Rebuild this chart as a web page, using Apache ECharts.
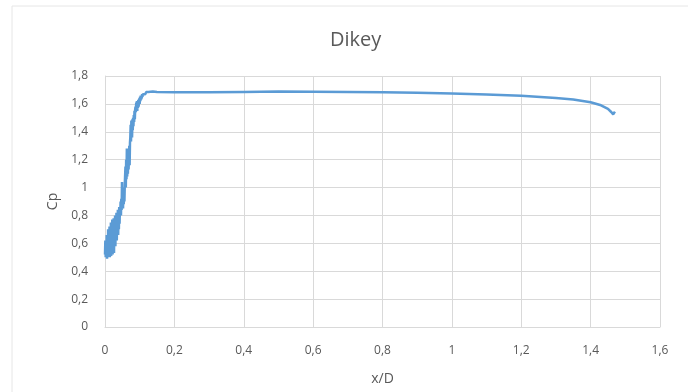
<!DOCTYPE html>
<html>
<head>
<meta charset="utf-8">
<script src="https://cdn.jsdelivr.net/npm/echarts@6/dist/echarts.min.js"></script>
<style>
html,body{margin:0;padding:0;background:#fff;}
#chart{width:688px;height:392px;}
</style>
</head>
<body>
<div id="chart"></div>
<script>
const chartTitle = "Dikey";
const xAxisName = "x/D";
const yAxisName = "Cp";
const xTickValues = [0, 0.2, 0.4, 0.6, 0.8, 1, 1.2, 1.4, 1.6];
const yTickValues = [0, 0.2, 0.4, 0.6, 0.8, 1, 1.2, 1.4, 1.6, 1.8];

// Noisy leading part (x/D from 0 to 0.138)
const xNoisy = [
  0.000,0.001,0.002,0.003,0.004,0.005,0.006,0.007,0.008,0.009,
  0.010,0.011,0.012,0.013,0.014,0.015,0.016,0.017,0.018,0.019,
  0.020,0.021,0.022,0.023,0.024,0.025,0.026,0.027,0.028,0.029,
  0.030,0.031,0.032,0.033,0.034,0.035,0.036,0.037,0.038,0.039,
  0.040,0.041,0.042,0.043,0.044,0.045,0.046,0.047,0.048,0.049,
  0.050,0.051,0.052,0.053,0.054,0.055,0.056,0.057,0.058,0.059,
  0.060,0.061,0.062,0.063,0.064,0.065,0.066,0.067,0.068,0.069,
  0.070,0.071,0.072,0.073,0.074,0.075,0.076,0.077,0.078,0.079,
  0.080,0.081,0.082,0.083,0.084,0.085,0.086,0.087,0.088,0.089,
  0.090,0.091,0.092,0.093,0.094,0.095,0.096,0.097,0.098,0.099,
  0.100,0.101,0.102,0.103,0.104,0.105,0.106,0.107,0.108,0.109,
  0.110,0.113,0.116,0.119,0.122,0.125,0.128,0.131,0.134,0.138
];
const yNoisy = [
  0.52,0.62,0.50,0.60,0.51,0.66,0.49,0.64,0.52,0.70,
  0.50,0.68,0.53,0.72,0.50,0.70,0.54,0.75,0.51,0.73,
  0.55,0.77,0.52,0.74,0.57,0.78,0.53,0.76,0.60,0.80,
  0.58,0.78,0.63,0.82,0.62,0.80,0.67,0.84,0.66,0.82,
  0.70,0.86,0.74,0.85,0.82,0.90,0.80,0.92,0.84,1.04,
  0.86,0.95,0.85,1.00,0.88,0.96,0.90,1.02,1.03,1.15,
  1.00,1.20,1.06,1.28,1.08,1.22,1.10,1.25,1.13,1.21,
  1.30,1.16,1.32,1.36,1.45,1.33,1.48,1.38,1.36,1.49,
  1.41,1.50,1.44,1.52,1.47,1.55,1.49,1.56,1.58,1.54,
  1.61,1.56,1.62,1.55,1.60,1.57,1.63,1.58,1.62,1.64,
  1.60,1.65,1.62,1.66,1.63,1.66,1.64,1.67,1.65,1.67,
  1.66,1.68,1.67,1.685,1.675,1.686,1.68,1.687,1.685,1.688
];
// Smooth remainder
const xSmooth = [0.15,0.2,0.3,0.4,0.5,0.6,0.7,0.8,0.9,1.0,1.1,1.2,1.3,1.35,1.4,1.43,1.45,1.46,1.465,1.47];
const ySmooth = [1.686,1.684,1.684,1.686,1.688,1.687,1.686,1.684,1.680,1.675,1.668,1.658,1.643,1.632,1.612,1.59,1.565,1.54,1.525,1.545];

const xs = xNoisy.concat(xSmooth);
const ys = yNoisy.concat(ySmooth);
const seriesData = xs.map((x, i) => [x, ys[i]]);

const fmt = v => String(Math.round(v * 10) / 10).replace('.', ',');
const font = "'Open Sans', 'Noto Sans', sans-serif";
const textColor = '#595959';

const chart = echarts.init(document.getElementById('chart'), null, {renderer: 'canvas'});
chart.setOption({
  backgroundColor: '#ffffff',
  animation: false,
  title: {
    text: chartTitle, left: 325, top: 25,
    textStyle: {fontFamily: font, fontSize: 20, fontWeight: 'normal', color: textColor}
  },
  graphic: [
    {type: 'line', shape: {x1: 12, y1: 6, x2: 688, y2: 6}, style: {stroke: '#e6e6e6', lineWidth: 1}, silent: true},
    {type: 'line', shape: {x1: 12, y1: 6, x2: 12, y2: 392}, style: {stroke: '#e6e6e6', lineWidth: 1}, silent: true}
  ],
  grid: {left: 105, right: 28, top: 76, bottom: 65, containLabel: false},
  xAxis: {
    type: 'value', min: xTickValues[0], max: xTickValues[xTickValues.length - 1], interval: 0.2,
    name: xAxisName, nameLocation: 'middle', nameGap: 45,
    nameTextStyle: {fontFamily: font, fontSize: 14, color: textColor},
    axisLine: {show: true, lineStyle: {color: '#d9d9d9'}},
    axisTick: {show: false},
    axisLabel: {formatter: fmt, fontFamily: font, fontSize: 12, color: textColor, margin: 18},
    splitLine: {show: true, lineStyle: {color: '#d9d9d9'}}
  },
  yAxis: {
    type: 'value', min: yTickValues[0], max: yTickValues[yTickValues.length - 1], interval: 0.2,
    name: yAxisName, nameLocation: 'middle', nameGap: 42, nameRotate: 90,
    nameTextStyle: {fontFamily: font, fontSize: 14, color: textColor},
    axisLine: {show: true, lineStyle: {color: '#d9d9d9'}},
    axisTick: {show: false},
    axisLabel: {formatter: fmt, fontFamily: font, fontSize: 12, color: textColor, margin: 17},
    splitLine: {show: true, lineStyle: {color: '#d9d9d9'}}
  },
  series: [{
    type: 'line', data: seriesData, showSymbol: false, symbol: 'none',
    lineStyle: {color: '#5b9bd5', width: 2.5},
    itemStyle: {color: '#5b9bd5'}
  }]
});
</script>
</body>
</html>
